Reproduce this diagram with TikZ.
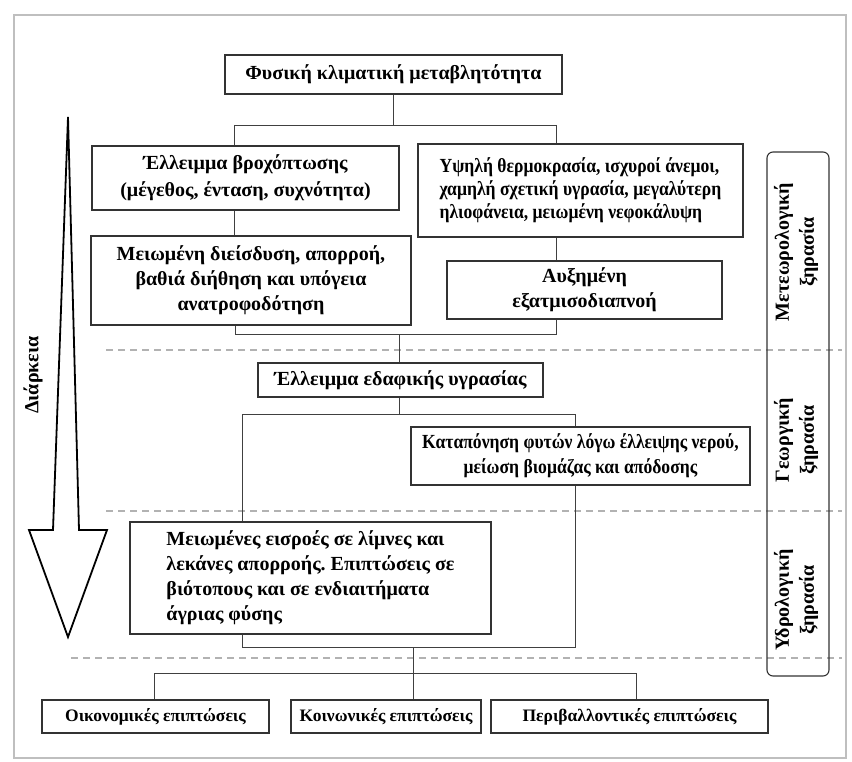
\documentclass[tikz,border=0pt]{standalone}
\usepackage{fontspec}
\setmainfont{Liberation Serif}
\newfontfamily\condfont{Liberation Serif}[FakeStretch=0.88]
\newfontfamily\semicondfont{Liberation Serif}[FakeStretch=0.95]
\frenchspacing
\begin{document}
\begin{tikzpicture}[x=1pt,y=-1pt,
  box/.style={draw=black!80, line width=1.1pt, fill=white, inner sep=2pt, align=center,
    font=\fontsize{20}{25}\selectfont\bfseries},
  condbox/.style={box, font=\condfont\fontsize{20}{23}\selectfont\bfseries},
  smallbox/.style={box, font=\fontsize{17.5}{20}\selectfont\bfseries},
  conn/.style={draw=black!75, line width=0.8pt},
  sep/.style={draw=black!30, line width=1.6pt, dash pattern=on 7pt off 5pt},
  side/.style={rotate=90, align=center, font=\fontsize{20}{25}\selectfont\bfseries}]
\useasboundingbox (0,0) rectangle (852,762);
\fill[white] (0,0) rectangle (852,762);
\draw[black!25, line width=1.5pt] (14,15) rectangle (846,758);

% separators
\coordinate (s1a) at (106,350); \coordinate (s1b) at (842,350);
\coordinate (s2a) at (106,511); \coordinate (s2b) at (842,511);
\coordinate (s3a) at (71,658);  \coordinate (s3b) at (842,658);
\draw[sep] (s1a) -- (s1b);
\draw[sep] (s2a) -- (s2b);
\draw[sep] (s3a) -- (s3b);

% boxes
\node[box, minimum width=337pt, minimum height=39pt] (top) at (393.5,74.5) {Φυσική κλιματική μεταβλητότητα};
\node[box, minimum width=307pt, minimum height=64pt, font=\fontsize{20}{27}\selectfont\bfseries] (A) at (245.5,178) {Έλλειμμα βροχόπτωσης\\(μέγεθος, ένταση, συχνότητα)};
\node[condbox, minimum width=325pt, minimum height=93pt, align=left] (B) at (580.5,190.5) {Υψηλή θερμοκρασία, ισχυροί άνεμοι,\\χαμηλή σχετική υγρασία, μεγαλύτερη\\ηλιοφάνεια, μειωμένη νεφοκάλυψη};
\node[box, minimum width=320pt, minimum height=89pt] (C) at (251,280.5) {Μειωμένη διείσδυση, απορροή,\\βαθιά διήθηση και υπόγεια\\ανατροφοδότηση};
\node[box, minimum width=275pt, minimum height=58pt] (D) at (584.5,290) {Αυξημένη\\εξατμισοδιαπνοή};
\node[box, minimum width=285pt, minimum height=34pt] (E) at (400.5,380) {Έλλειμμα εδαφικής υγρασίας};
\node[condbox, font=\condfont\fontsize{20}{25}\selectfont\bfseries, minimum width=339pt, minimum height=58pt] (F) at (580.5,456) {Καταπόνηση φυτών λόγω έλλειψης νερού,\\μείωση βιομάζας και απόδοσης};
\node[box, minimum width=361pt, minimum height=112pt, align=left] (G) at (310.5,578) {Μειωμένες εισροές σε λίμνες και\\λεκάνες απορροής. Επιπτώσεις σε\\βιότοπους και σε ενδιαιτήματα\\άγριας φύσης};
\node[smallbox, minimum width=227pt, minimum height=33pt] (H) at (155.5,716.5) {Οικονομικές επιπτώσεις};
\node[smallbox, minimum width=190pt, minimum height=33pt] (I) at (386,716.5) {Κοινωνικές επιπτώσεις};
\node[smallbox, minimum width=277pt, minimum height=33pt] (J) at (629.5,716.5) {Περιβαλλοντικές επιπτώσεις};

% connector junctions
\coordinate (j1) at (393.5,125);
\coordinate (j1L) at (234,125);
\coordinate (j1R) at (556,125);
\draw[conn] (top) -- (j1);
\draw[conn] (j1L) -- (j1R);
\draw[conn] (j1L) -- (j1L |- A.north);
\draw[conn] (j1R) -- (j1R |- B.north);
\coordinate (aC) at (234,0);
\draw[conn] (aC |- A.south) -- (aC |- C.north);
\coordinate (bD) at (556,0);
\draw[conn] (bD |- B.south) -- (bD |- D.north);

\coordinate (j2L) at (235,334);
\coordinate (j2R) at (556,334);
\coordinate (j2) at (399,334);
\draw[conn] (j2L |- C.south) -- (j2L) -- (j2R) -- (j2R |- D.south);
\draw[conn] (j2) -- (j2 |- E.north);

\coordinate (j3) at (399,414);
\coordinate (j3L) at (242,414);
\coordinate (j3R) at (575,414);
\draw[conn] (j3 |- E.south) -- (j3);
\draw[conn] (j3L) -- (j3R);
\draw[conn] (j3R) -- (j3R |- F.north);
\draw[conn] (j3L) -- (j3L |- G.north);

\coordinate (j4L) at (242,647);
\coordinate (j4R) at (575,647);
\coordinate (j4) at (413,647);
\draw[conn] (j4L |- G.south) -- (j4L) -- (j4R) -- (j4R |- F.south);
\coordinate (j5) at (413,673);
\coordinate (j5L) at (154,673);
\coordinate (j5R) at (636,673);
\draw[conn] (j4) -- (j5);
\draw[conn] (j5L) -- (j5R);
\draw[conn] (j5L) -- (j5L |- H.north);
\draw[conn] (j5) -- (j5 |- I.north);
\draw[conn] (j5R) -- (j5R |- J.north);

% side panel
\node[draw=black!80, line width=1.1pt, rounded corners=6pt, minimum width=62pt, minimum height=524pt] (panel) at (798,414) {};
\node[side] (met) at (796,252) {Μετεωρολογική\\ξηρασία};
\node[side] (geo) at (796,440) {Γεωργική\\ξηρασία};
\node[side] (hyd) at (796,600) {Υδρολογική\\ξηρασία};

% duration arrow
\draw[black, line width=1.8pt, line join=miter, miter limit=30]
  (68,117) -- (79,530) -- (107,530) -- (68,637) -- (29,530) -- (53,530) -- cycle;
\node[side] (dur) at (33,375) {Διάρκεια};
\end{tikzpicture}
\end{document}
